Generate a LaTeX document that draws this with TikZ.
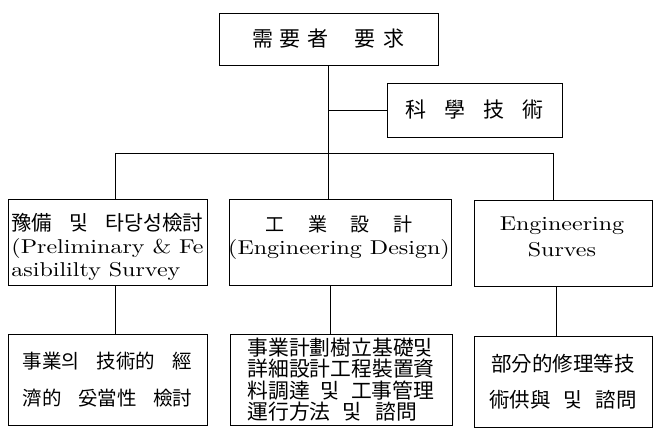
\documentclass[tikz,border=0pt]{standalone}
\usepackage{fontspec}
\newfontfamily\cjk{Noto Sans CJK KR}
\newfontfamily\lat{lmroman10-regular.otf}[FakeStretch=1.2]
\begin{document}
\begin{tikzpicture}[x=1pt,y=-1pt,
  box/.style={draw, line width=0.7pt, inner sep=0pt},
  conn/.style={line width=0.7pt},
  latf/.style={font=\lat\fontsize{20}{23}\selectfont},
  txt/.style={inner sep=0pt}]
\useasboundingbox (0,0) rectangle (653,438);
% top row
\node[box, minimum width=219pt, minimum height=52pt] (top) at (328.5,39)
  {\cjk\fontsize{21}{21}\selectfont 需\hspace{7pt}要\hspace{7pt}者\hspace{25pt}要\hspace{9pt}求};
\node[box, minimum width=175pt, minimum height=54pt] (sci) at (474.5,110)
  {\cjk\fontsize{21}{21}\selectfont 科\hspace{18pt}學\hspace{18pt}技\hspace{18pt}術};
% second row
\node[box, minimum width=199pt, minimum height=86pt] (L2) at (107.5,242.5) {};
\node[txt, align=left, latf] (tL2) at (107.5,247)
  {\makebox[192pt][s]{\cjk\fontsize{20.5}{23}\selectfont 豫備\hfill 및\hfill 타당성檢討}\\
   (Preliminary \& Fe\\ asibililty Survey};
\node[box, minimum width=222pt, minimum height=86pt] (M2) at (340,242.5) {};
\node[txt, align=center, latf] (tM2) at (339,238)
  {{\cjk\fontsize{19}{23}\selectfont 工\hspace{24pt}業\hspace{24pt}設\hspace{24pt}計}\\ (Engineering Design)};
\node[box, minimum width=178pt, minimum height=86pt] (R2) at (563,243.5) {};
\node[txt, align=center, latf] (tR2) at (562,237)
  {Engineering\\[3pt] Surves};
% third row
\node[box, minimum width=199pt, minimum height=91pt, align=center,
      font=\cjk\fontsize{19.5}{37}\selectfont] (L3) at (107.5,379.5)
  {\makebox[170pt][s]{事業의\hfill 技術的\hfill 經}\\ \makebox[170pt][s]{濟的\hfill 妥當性\hfill 檢討}};
\node[box, minimum width=222pt, minimum height=91pt, align=left,
      font=\cjk\fontsize{20.8}{21.5}\selectfont] (M3) at (341,379.5)
  {事業計劃樹立基礎및\\ 詳細設計工程裝置資\\
   \makebox[187pt][s]{料調達\hfill 및\hfill 工事管理}\\
   運行方法\hspace{12pt}및\hspace{14pt}諮問};
\node[box, minimum width=178pt, minimum height=91pt, align=center,
      font=\cjk\fontsize{20.5}{36}\selectfont] (R3) at (563,381.5)
  {部分的修理等技\\ \makebox[148pt][s]{術供與\hfill 및\hfill 諮問}};
% connectors
\coordinate (busL) at (115,153);
\coordinate (busR) at (553,153);
\draw[conn] (top.south) -- (top.south |- busL);
\draw[conn] (top.south |- sci.west) -- (sci.west);
\draw[conn] (busL) -- (busR);
\draw[conn] (busL) -- (busL |- L2.north);
\draw[conn] (top.south |- busL) -- (top.south |- M2.north);
\draw[conn] (busR) -- (busR |- R2.north);
\draw[conn] ([xshift=8pt]L2.south) -- ([xshift=8pt]L2.south |- L3.north);
\draw[conn] ([xshift=-10pt]M2.south) -- ([xshift=-10pt]M2.south |- M3.north);
\draw[conn] ([xshift=-7pt]R2.south) -- ([xshift=-7pt]R2.south |- R3.north);
\end{tikzpicture}
\end{document}
